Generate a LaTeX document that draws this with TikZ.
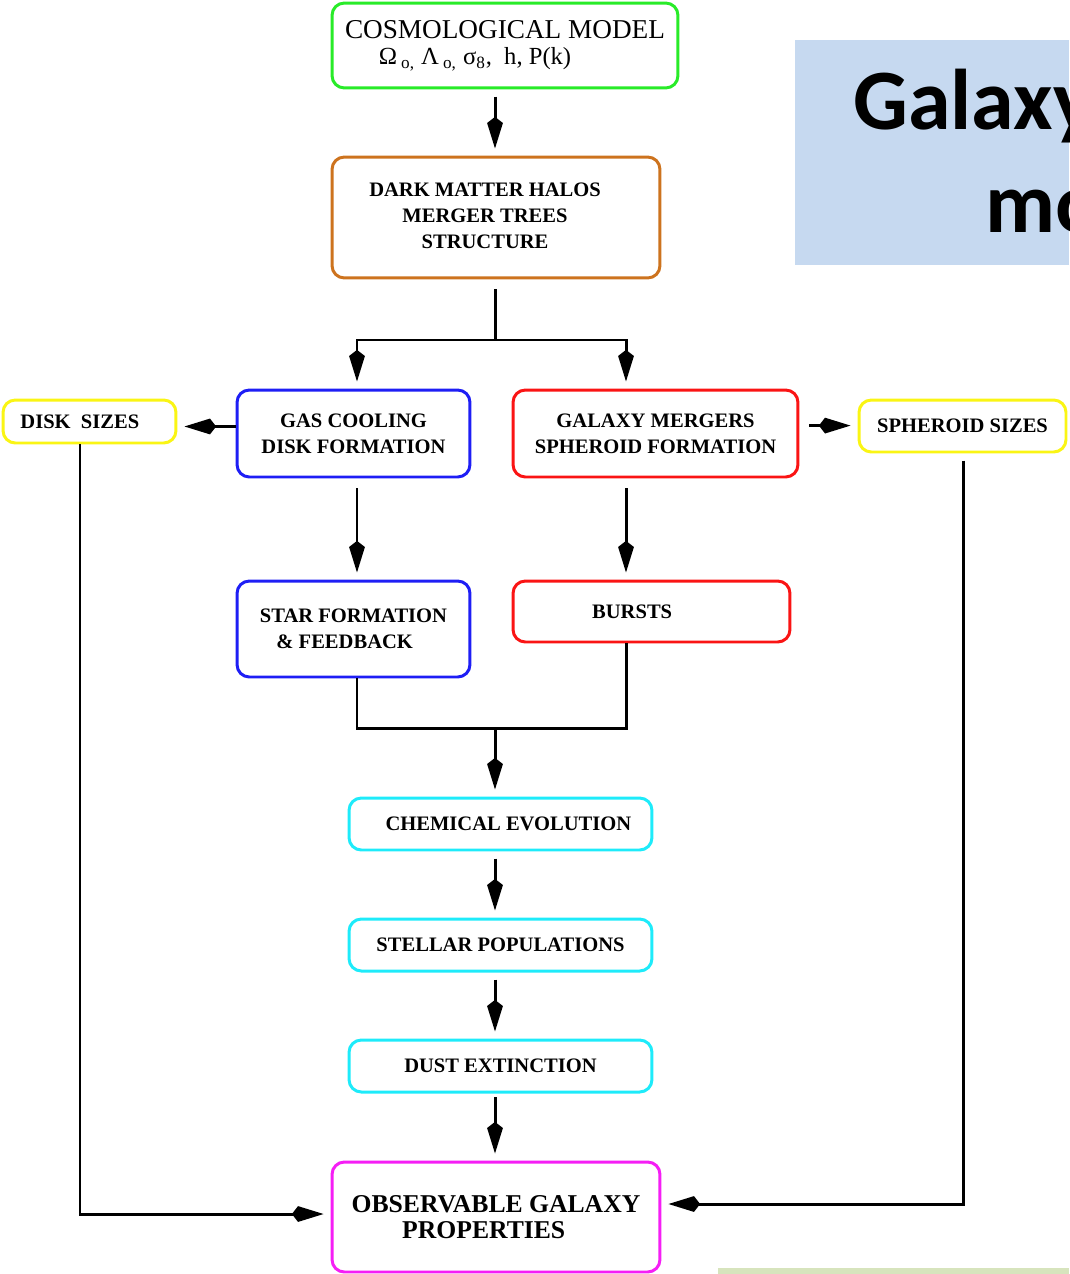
\documentclass[tikz,border=0pt]{standalone}
\usepackage{fontspec}
\setmainfont{Liberation Serif}
\newfontfamily\titlefont{Carlito}
\usetikzlibrary{arrows.meta}
\definecolor{cosmogreen}{RGB}{40,235,40}
\definecolor{halobrown}{RGB}{205,115,30}
\definecolor{diskblue}{RGB}{30,30,245}
\definecolor{mergred}{RGB}{250,20,20}
\definecolor{sizeyellow}{RGB}{250,245,20}
\definecolor{popcyan}{RGB}{30,235,250}
\definecolor{obsmagenta}{RGB}{245,30,245}
\definecolor{titleblue}{RGB}{198,217,240}
\definecolor{bargreen}{RGB}{215,228,189}

\begin{document}
\begin{tikzpicture}[x=0.02cm, y=-0.02cm,
    box/.style={draw, line width=1.7pt, rounded corners=7pt, align=center, inner sep=0pt,
        font=\bfseries\fontsize{11.7}{14.8}\selectfont},
    bigbox/.style={box, font=\bfseries\fontsize{14.6}{14.8}\selectfont},
    wire/.style={line width=1.7pt},
    flow/.style={wire, -{Kite[length=18pt,width=9pt,inset=3.5pt]}, shorten >=4pt}]
    \useasboundingbox (0,0) rectangle (1069,1274);

    % title panel, cut at the page edge
    \fill[titleblue] (795,40) rectangle (1069,265);
    \fill[bargreen] (718,1268) rectangle (1069,1274);
    \begin{scope}
        \clip (0,0) rectangle (1069,1274);
        \node[anchor=base west, inner sep=0pt, font=\titlefont\bfseries\fontsize{49}{49}\selectfont] (title1) at (853,130) {Galaxy};
        \node[anchor=base west, inner sep=0pt, font=\titlefont\bfseries\fontsize{49}{49}\selectfont] (title2) at (985,232) {mo};
    \end{scope}

    % boxes
    \node[box, draw=cosmogreen, minimum width=6.92cm, minimum height=1.70cm, font=\fontsize{15.5}{14.8}\selectfont] (cosmo) at (505,45.5)
        {COSMOLOGICAL MODEL\\ {\fontsize{14}{14}\selectfont\hspace*{-1.2cm}Ω\,\textsubscript{o,} Λ\,\textsubscript{o,} σ\textsubscript{8},\ \ h, P(k)}};
    \node[box, draw=halobrown, minimum width=6.56cm, minimum height=2.42cm] (dm) at (496,217.5)
        {\begin{tabular}{@{}c@{}}DARK MATTER HALOS\\MERGER TREES\\STRUCTURE\end{tabular}\hspace*{12.5pt}};
    \node[box, draw=diskblue, minimum width=4.66cm, minimum height=1.74cm] (gas) at (353.5,433.5)
        {GAS COOLING\\DISK FORMATION};
    \node[box, draw=mergred, minimum width=5.70cm, minimum height=1.74cm] (merg) at (655.5,433.5)
        {GALAXY MERGERS\\SPHEROID FORMATION};
    \node[box, draw=sizeyellow, minimum width=3.46cm, minimum height=0.86cm] (disk) at (89.5,421.5)
        {DISK\ \ SIZES\hspace*{11pt}};
    \node[box, draw=sizeyellow, minimum width=4.14cm, minimum height=1.04cm] (sph) at (962.5,426)
        {SPHEROID SIZES};
    \node[box, draw=diskblue, minimum width=4.66cm, minimum height=1.92cm] (star) at (353.5,629)
        {STAR FORMATION\\\& FEEDBACK\hspace*{10pt}};
    \node[box, draw=mergred, minimum width=5.54cm, minimum height=1.22cm] (burst) at (651.5,611.5)
        {BURSTS\hspace*{22pt}};
    \node[box, draw=popcyan, minimum width=6.06cm, minimum height=1.04cm] (chem) at (500.5,824)
        {\hspace*{9pt}CHEMICAL EVOLUTION};
    \node[box, draw=popcyan, minimum width=6.06cm, minimum height=1.04cm] (stell) at (500.5,945)
        {STELLAR POPULATIONS};
    \node[box, draw=popcyan, minimum width=6.06cm, minimum height=1.04cm] (dust) at (500.5,1066)
        {DUST EXTINCTION};
    \node[bigbox, draw=obsmagenta, minimum width=6.56cm, minimum height=2.20cm] (obs) at (496,1217)
        {OBSERVABLE GALAXY\\PROPERTIES\hspace*{14pt}};

    % connector columns
    \coordinate (spine) at (495,0);
    \coordinate (lcol) at (357,0);
    \coordinate (rcol) at (626,0);
    \coordinate (dcol) at (80,0);
    \coordinate (scol) at (963,0);
    \coordinate (fork) at (495,340);
    \coordinate (join) at (495,728);

    % connectors
    \draw[flow, shorten <=4pt] (cosmo.south -| spine) -- (dm.north -| spine);
    \draw[wire, shorten <=5.5pt] (dm.south -| fork) -- (fork);
    \draw[flow] (fork) -| (gas.north -| lcol);
    \draw[flow] (fork) -| (merg.north -| rcol);
    \draw[flow] ([yshift=4pt]gas.west) -- ([yshift=4pt]gas.west -| disk.east);
    \draw[flow, shorten <=5.5pt] ([yshift=4.5pt]merg.east) -- ([yshift=4.5pt]merg.east -| sph.west);
    \draw[flow, shorten <=5.5pt] (gas.south -| lcol) -- (star.north -| lcol);
    \draw[flow, shorten <=5.5pt] (merg.south -| rcol) -- (burst.north -| rcol);
    \draw[wire] (star.south -| lcol) |- (join) -| (burst.south -| rcol);
    \draw[flow] (join) -- (chem.north -| spine);
    \draw[flow, shorten <=4pt] (chem.south -| spine) -- (stell.north -| spine);
    \draw[flow, shorten <=4pt] (stell.south -| spine) -- (dust.north -| spine);
    \draw[flow, shorten <=2pt] (dust.south -| spine) -- (obs.north -| spine);
    \draw[flow] (disk.south -| dcol) |- ([yshift=1.7pt]obs.west);
    \draw[flow, shorten <=4pt] (sph.south -| scol) |- ([yshift=7.4pt]obs.east);
\end{tikzpicture}
\end{document}
